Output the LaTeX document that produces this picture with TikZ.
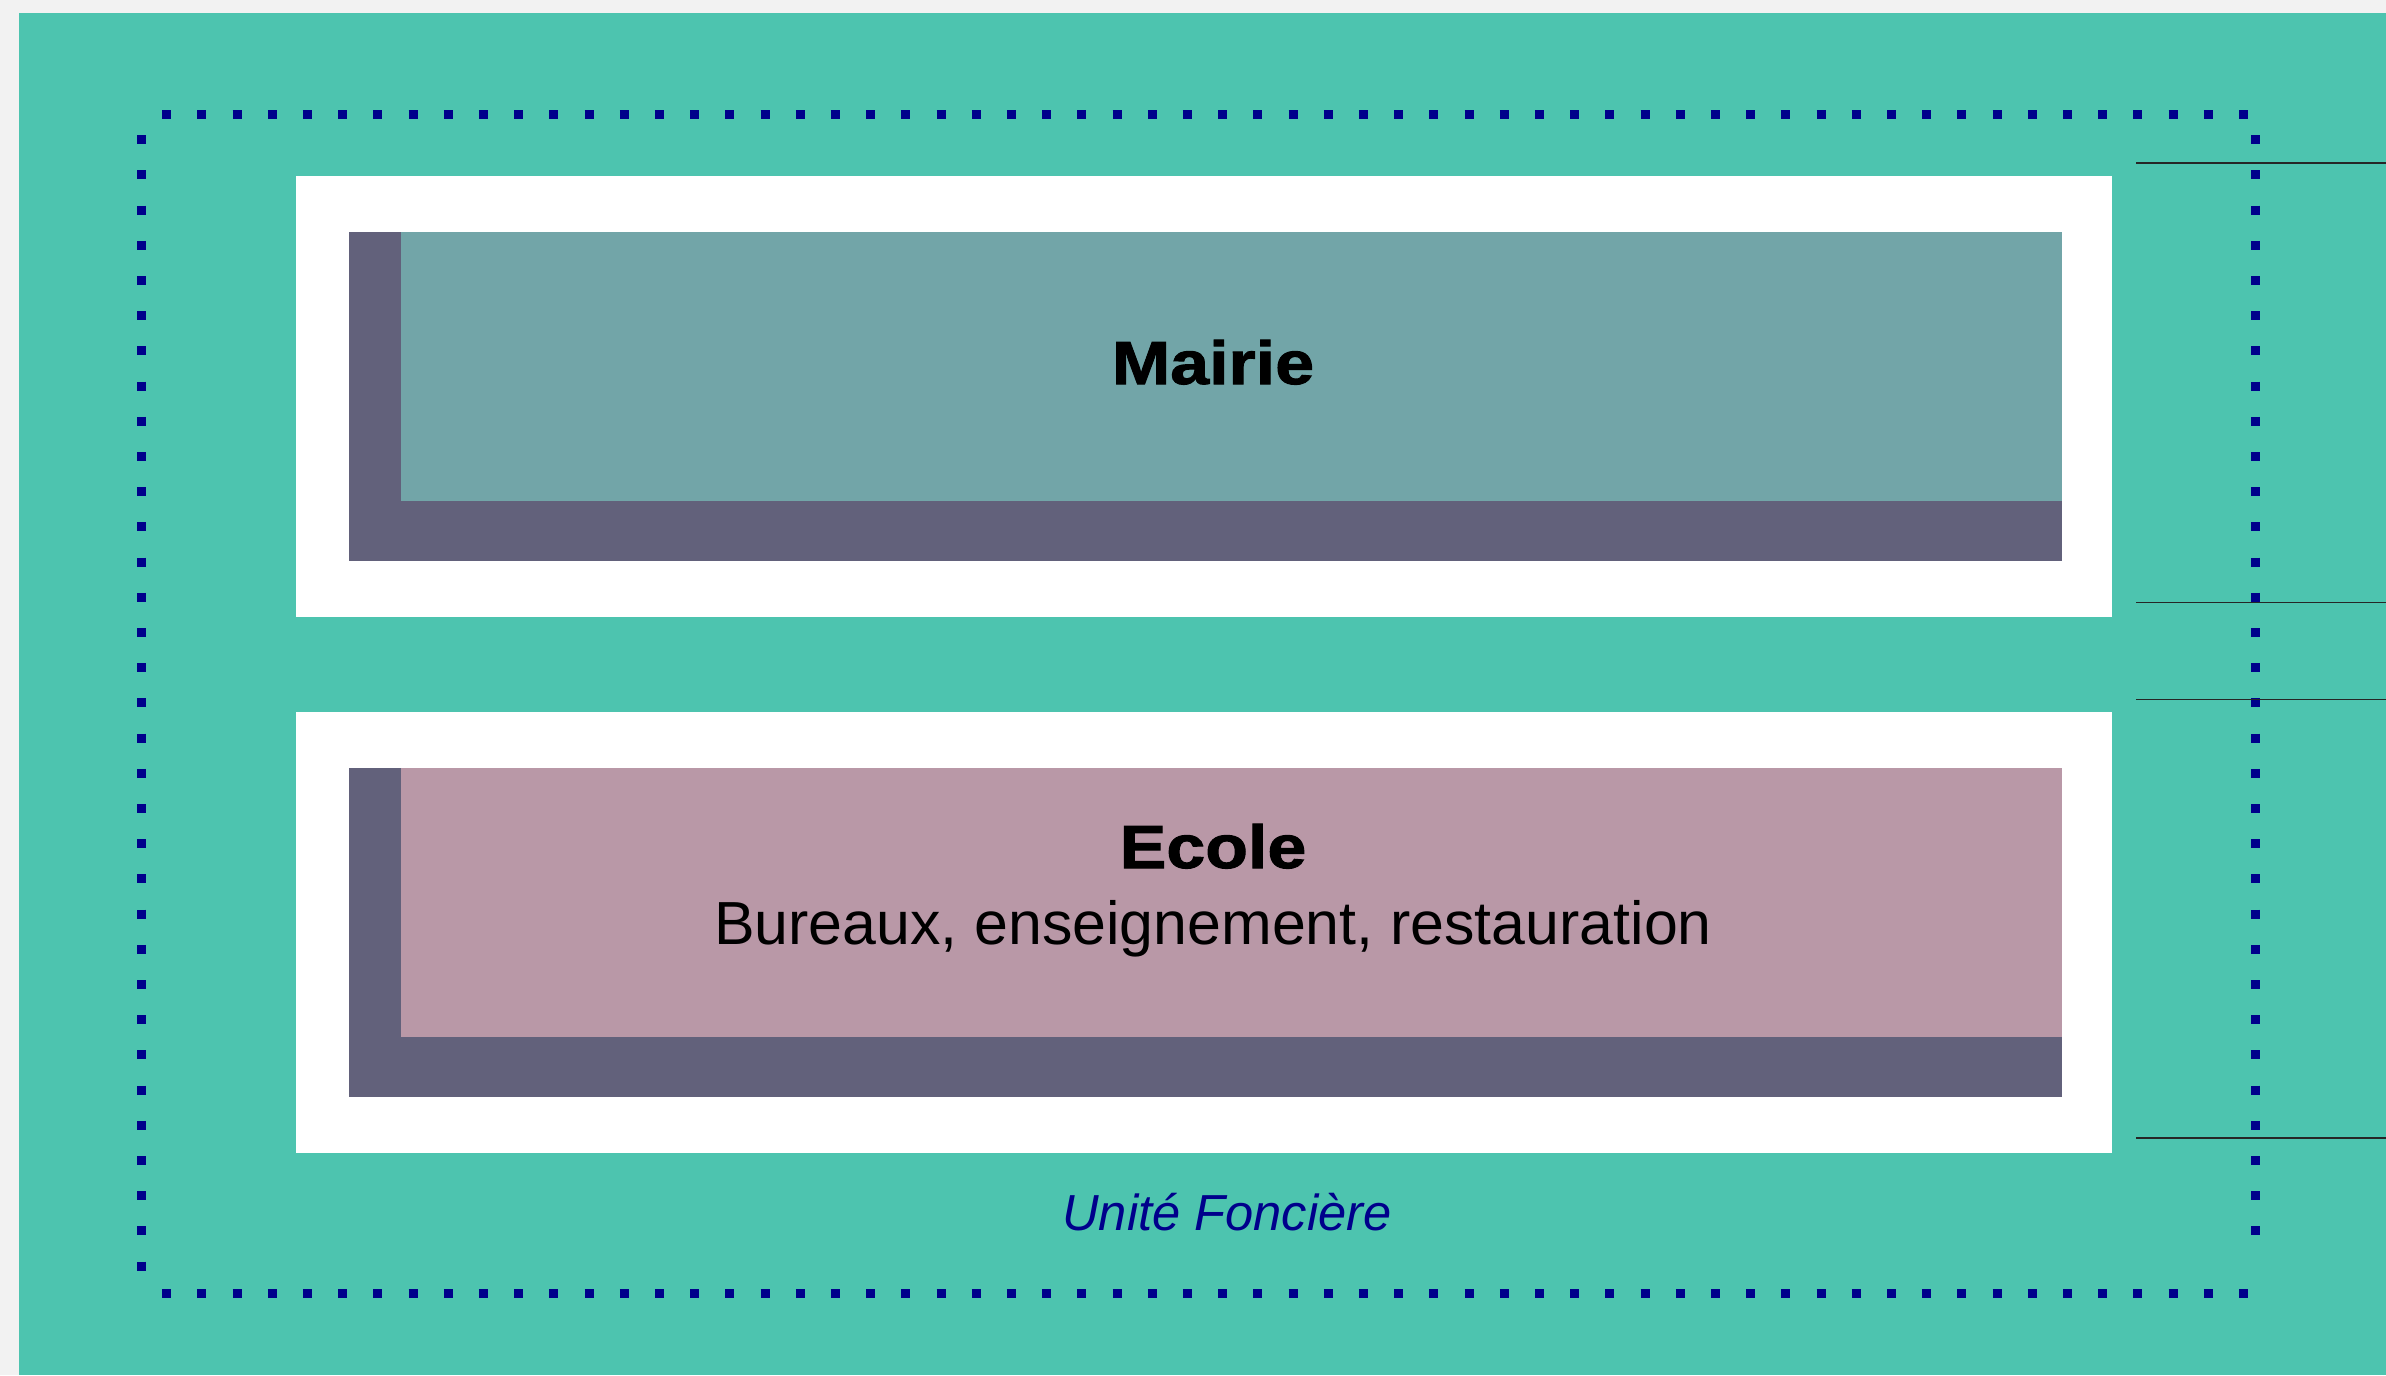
\documentclass[tikz,border=0pt]{standalone}
\usepackage{fontspec}
\setmainfont{Liberation Sans}
\newfontfamily\heavyfont{Liberation Sans}[BoldFeatures={FakeStretch=1.15,FakeBold=1.6}]
\definecolor{paper}{HTML}{F2F2F2}
\definecolor{parcel}{HTML}{4DC4AF}
\definecolor{mairiefill}{HTML}{72A5A8}
\definecolor{ecolefill}{HTML}{B998A7}
\definecolor{wallfill}{HTML}{62617B}
\definecolor{limit}{HTML}{00008B}

\tikzset{
  box/.style={anchor=north west,inner sep=0pt,outer sep=0pt,draw=none},
  frame/.style={box,fill=white,minimum width=18.15cm,minimum height=4.41cm},
  wall/.style={box,fill=wallfill,minimum width=17.12cm,minimum height=3.29cm},
  room/.style={box,minimum width=16.60cm,minimum height=2.69cm},
  title/.style={anchor=base,font=\heavyfont\bfseries\fontsize{17.3}{20}\selectfont},
  usage/.style={anchor=base,font=\fontsize{17.3}{20}\selectfont},
  limitline/.style={limit,line width=0.09cm,dash pattern=on 0.09cm off 0.2618cm,dash phase=0.14cm},
  dimline/.style={black!85,line width=0.015cm}
}

\begin{document}
\begin{tikzpicture}[x=0.01cm,y=-0.01cm]
  \useasboundingbox (0,0) rectangle (2386,1375);
  \fill[paper] (0,0) rectangle (2386,1375);
  \fill[parcel] (19,13) rectangle (2386,1375);
  % \draw[help lines] (0,0) grid[step=100] (2386,1375);
  \node[frame] (mframe) at (296,176) {};
  \node[wall] (mwall) at (349,232) {};
  \node[room,fill=mairiefill] (mroom) at (401,232) {};
  \node[title] (mairie) at (1213,384) {Mairie};

  \node[frame] (eframe) at (296,712) {};
  \node[wall] (ewall) at (349,768) {};
  \node[room,fill=ecolefill] (eroom) at (401,768) {};
  \node[title] (ecole) at (1213,868) {Ecole};
  \node[usage] (ecoleuse) at (1213,944) {Bureaux, enseignement, restauration};

  \node[usage,font=\itshape\fontsize{14.4}{17}\selectfont,text=limit] (uf) at (1227,1230) {Unité Foncière};

  \draw[limitline] (141,114) -- (2255,114);
  \draw[limitline] (2255,114) -- (2255,1248);
  \draw[limitline] (141,1293) -- (2273,1293);
  \draw[limitline] (141,114) -- (141,1293);

  \foreach \y in {163,602.6,699.4,1138}
    \draw[dimline] (2136,\y) -- (2386,\y);
\end{tikzpicture}
\end{document}
